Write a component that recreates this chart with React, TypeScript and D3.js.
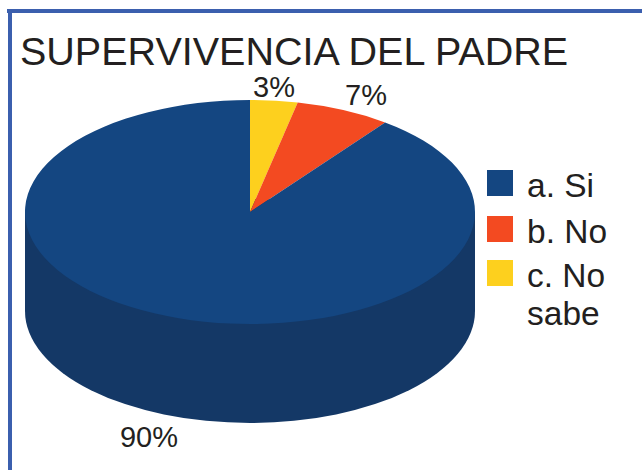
import React from "react";
import * as d3 from "d3";

const categories = ["c. No sabe", "b. No", "a. Si"];
const values = [3.4, 6.85, 89.75];
const sliceLabels = ["3%", "7%", "90%"];
const colors = ["#fdd01e", "#f34a21", "#144681"];
const sideColor = "#143866";
const legendOrder = [2, 1, 0];
const legendLines = [["a. Si"], ["b. No"], ["c. No", "sabe"]];
const legendY = [170, 216, 260];
const labelPos: [number, number][] = [[274, 97], [366, 105], [149, 447]];

const font = "'Liberation Sans', Arial, sans-serif";
const textColor = "#231f20";
const cx = 250, cy = 212, rx = 225, ry = 112, depth = 99;

export default function App() {
  const pie = d3.pie<number>().sort(null)(values);
  const arc = d3.arc<d3.PieArcDatum<number>>().innerRadius(0).outerRadius(rx);
  const full = d3.arc()({ innerRadius: 0, outerRadius: rx, startAngle: 0, endAngle: 2 * Math.PI }) as string;
  const squash = `scale(1, ${ry / rx})`;
  return (
    <svg width={642} height={470} style={{ position: "fixed", left: 0, top: 0, background: "#fff" }}>
      <rect x={7} y={9} width={635} height={4} fill="#3b5fae" />
      <rect x={8} y={9} width={4} height={461} fill="#3b5fae" />
      <text x={20} y={65} fontFamily={font} fontSize={39.5} fill={textColor}>SUPERVIVENCIA DEL PADRE</text>

      <g transform={`translate(${cx},${cy + depth}) ${squash}`}>
        <path d={full} fill={sideColor} />
      </g>
      <rect x={cx - rx} y={cy} width={2 * rx} height={depth} fill={sideColor} />
      <g transform={`translate(${cx},${cy}) ${squash}`}>
        {pie.map((d, i) => (
          <path key={i} d={arc(d) as string} fill={colors[i]} />
        ))}
      </g>

      {sliceLabels.map((t, i) => (
        <text key={t} x={labelPos[i][0]} y={labelPos[i][1]} textAnchor="middle" fontFamily={font} fontSize={29} fill={textColor}>{t}</text>
      ))}

      {legendOrder.map((c, i) => (
        <g key={c}>
          <rect x={487} y={legendY[i]} width={26} height={26} fill={colors[c]} />
          {legendLines[i].map((line, j) => (
            <text key={line} x={527} y={legendY[i] + 27 + j * 38} fontFamily={font} fontSize={33.5} fill={textColor}>{line}</text>
          ))}
        </g>
      ))}
    </svg>
  );
}
